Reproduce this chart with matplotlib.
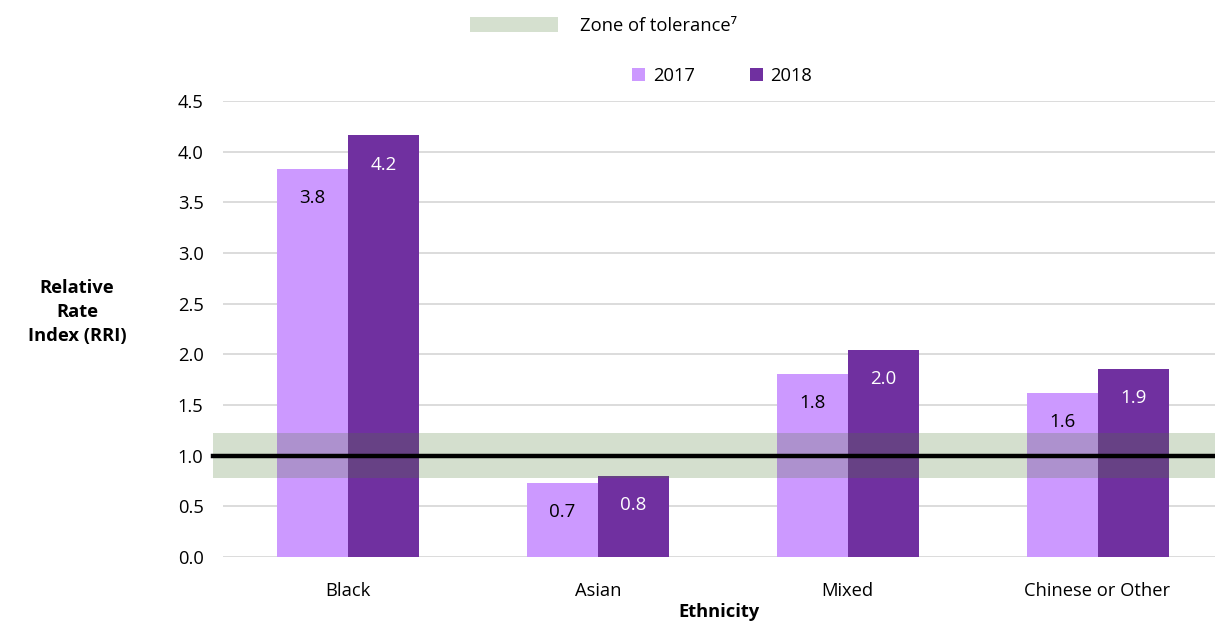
import matplotlib
matplotlib.use("Agg")
import matplotlib.pyplot as plt
from matplotlib.patches import Patch
import numpy as np

plt.rcParams['font.family'] = ['Open Sans', 'DejaVu Sans']

# data
categories = ["Black", "Asian", "Mixed", "Chinese or Other"]
rri_2017 = [3.83, 0.73, 1.81, 1.62]
rri_2018 = [4.16, 0.80, 2.04, 1.86]
zone_low = 0.78
zone_high = 1.22
baseline = 1.0
yticks = [0.0, 0.5, 1.0, 1.5, 2.0, 2.5, 3.0, 3.5, 4.0, 4.5]

col_2017 = "#CC99FF"
col_2018 = "#7030A0"
zone_col = "#4E7B33"
zone_alpha = 0.24
zone_legend = "#D5E0CF"

fs = 13.2

fig = plt.figure(figsize=(12.15, 6.23), dpi=100)
ax = fig.add_axes([223 / 1215, 1 - 557 / 623, 1 - 223 / 1215, (557 - 101) / 623])

x = np.arange(len(categories))
w = 0.284
b1 = ax.bar(x - w / 2, rri_2017, w, color=col_2017, zorder=2)
b2 = ax.bar(x + w / 2, rri_2018, w, color=col_2018, zorder=2)

# zone of tolerance and the 1.0 line
ax.axhspan(zone_low, zone_high, xmin=-0.01, xmax=1, color=zone_col, alpha=zone_alpha,
           lw=0, zorder=3, clip_on=False)
ax.axhline(baseline, xmin=-0.01, xmax=1, color="black", lw=3.2, zorder=4, clip_on=False)

# value labels inside the bar tops
for bars, vals, tc in [(b1, rri_2017, "black"), (b2, rri_2018, "white")]:
    for bar, v in zip(bars, vals):
        ax.annotate(f"{v:.1f}", (bar.get_x() + bar.get_width() / 2, v),
                    xytext=(0, -21), textcoords="offset points",
                    ha="center", va="center", fontsize=13.5, color=tc, zorder=5)

ax.set_xlim(-0.5, 3.47)
ax.set_ylim(0, 4.5)
ax.set_yticks(yticks)
ax.set_yticklabels([f"{t:.1f}" for t in yticks], fontsize=fs)
ax.set_xticks(x)
ax.set_xticklabels(categories, fontsize=fs)
ax.tick_params(axis="both", length=0)
ax.tick_params(axis="y", pad=14)
ax.tick_params(axis="x", pad=18)
ax.grid(axis="y", color="#D9D9D9", lw=1.3, zorder=0)
ax.set_axisbelow(True)
for s in ax.spines.values():
    s.set_visible(False)

ax.set_xlabel("Ethnicity", fontsize=fs, fontweight="bold", labelpad=2)
fig.text(77 / 1215, 1 - 312 / 623, "Relative\nRate\nIndex (RRI)", ha="center", va="center",
         fontsize=fs, fontweight="bold", linespacing=1.4)

# legends
fig.legend(handles=[Patch(facecolor=zone_legend, lw=0)], labels=["Zone of tolerance\u2077"],
           loc="center", bbox_to_anchor=(603 / 1215, 1 - 26 / 623), frameon=False,
           fontsize=fs, handlelength=4.8, handleheight=0.9, handletextpad=1.2)
fig.legend(handles=[Patch(facecolor=col_2017, lw=0), Patch(facecolor=col_2018, lw=0)],
           labels=["2017", "2018"], loc="center", bbox_to_anchor=(722 / 1215, 1 - 76 / 623),
           frameon=False, fontsize=fs, ncol=2, handlelength=0.75, handleheight=0.75,
           handletextpad=0.4, columnspacing=3.0)

fig.savefig("out.png", dpi=100)
